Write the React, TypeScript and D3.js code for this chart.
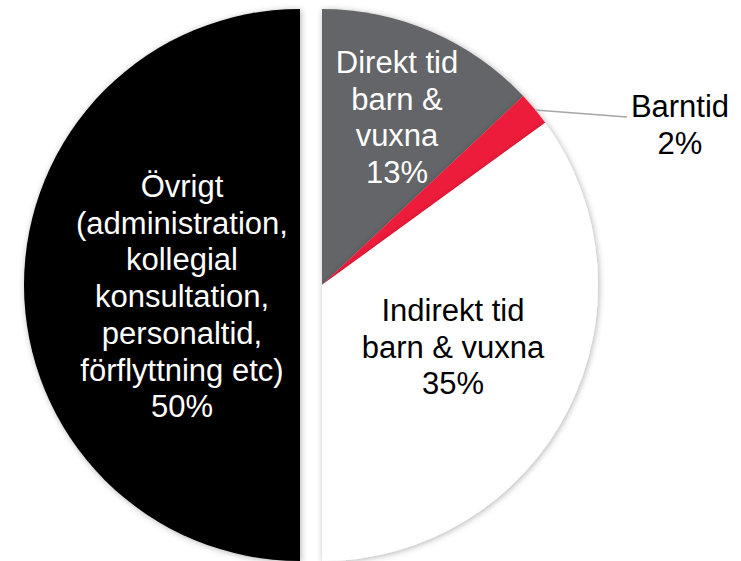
import React from "react";
import { pie, arc } from "d3";

const categories = [
    "Direkt tid barn & vuxna",
    "Barntid",
    "Indirekt tid barn & vuxna",
    "Övrigt (administration, kollegial konsultation, personaltid, förflyttning etc)"
];
const values = [13, 2, 35, 50];
const labelLines = [
    ["Direkt tid", "barn &", "vuxna", "13%"],
    ["Barntid", "2%"],
    ["Indirekt tid", "barn & vuxna", "35%"],
    ["Övrigt", "(administration,", "kollegial", "konsultation,", "personaltid,", "förflyttning etc)", "50%"]
];
const colors = ["#646567", "#ee1c3a", "#ffffff", "#000000"];
const textColors = ["#ffffff", "#000000", "#000000", "#ffffff"];

// layout
const W = 741;
const H = 561;
const cx = 322;
const cy = 285;
const R = 276;
const explode = [0, 0, 0, 22];
const labelAt: [number, number][] = [
    [397, 73],
    [680, 117],
    [453, 321],
    [182, 197]
];
const lineH = 36.7;

export default function App() {
    const slices = pie<number>().sort(null).value((d) => d)(values);
    const arcGen: any = arc().innerRadius(0).outerRadius(R);

    return (
        <svg width={W} height={H} style={{ position: "absolute", left: 0, top: 0, background: "#fff" }}>
            <defs>
                <filter id="sh" x="-20%" y="-20%" width="140%" height="140%">
                    <feDropShadow dx="1" dy="1" stdDeviation="3" floodColor="#000" floodOpacity="0.3" />
                </filter>
            </defs>
            {slices.map((s, i) => {
                const mid = (s.startAngle + s.endAngle) / 2;
                const ox = Math.sin(mid) * explode[i];
                const oy = -Math.cos(mid) * explode[i];
                return (
                    <path
                        key={categories[i]}
                        d={arcGen(s)}
                        transform={`translate(${cx + ox},${cy + oy})`}
                        fill={colors[i]}
                        filter="url(#sh)"
                    />
                );
            })}
            <polyline points="535,110 627,117" fill="none" stroke="#a6a6a6" strokeWidth={1.5} />
            {labelLines.map((lines, i) => (
                <text
                    key={i}
                    x={labelAt[i][0]}
                    y={labelAt[i][1]}
                    textAnchor="middle"
                    fill={textColors[i]}
                    fontFamily="'Liberation Sans', Arial, sans-serif"
                    fontSize={31}
                >
                    {lines.map((l, j) => (
                        <tspan key={j} x={labelAt[i][0]} y={labelAt[i][1] + j * lineH}>
                            {l}
                        </tspan>
                    ))}
                </text>
            ))}
        </svg>
    );
}
